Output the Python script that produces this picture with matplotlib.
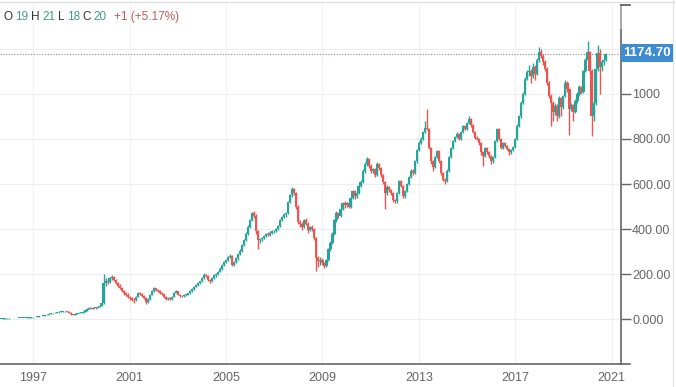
import numpy as np
import pandas as pd
import matplotlib
matplotlib.use('Agg')
from matplotlib import pyplot as plt
from matplotlib.patches import Rectangle

plt.rcParams['font.family'] = ['Liberation Sans', 'DejaVu Sans']

# monthly candles, Sep 1995 .. Oct 2020
start = '1995-09-01'
closes = [
    3, 3, 4, 4,
    4, 5, 5, 5, 6, 6, 6, 7, 7, 8, 8, 9,
    9, 10, 12, 13, 15, 16, 18, 20, 24, 28, 27, 30,
    31, 33, 34, 35, 36, 34, 30, 23, 21, 24, 27, 28,
    30, 34, 40, 46, 50, 48, 52, 50, 55, 60, 72, 160,
    170, 165, 183, 188, 175, 160, 150, 140, 125, 117, 110, 100,
    95, 88, 85, 100, 117, 112, 102, 95, 75, 90, 110, 125,
    139, 130, 125, 117, 112, 100, 92, 95, 90, 100, 118, 124,
    110, 105, 102, 108, 110, 115, 125, 135, 145, 152, 160, 169,
    185, 198, 192, 175, 170, 182, 195, 200, 212, 225, 240, 255,
    262, 275, 280, 240, 255, 270, 290, 305, 330, 350, 380, 410,
    440, 472, 460, 390, 350, 355, 362, 370, 380, 375, 385, 390,
    392, 400, 415, 440, 455, 467, 470, 520, 550, 576, 560, 500,
    430, 422, 410, 440, 425, 395, 410, 400, 360, 270, 258, 265,
    250, 235, 262, 311, 340, 380, 440, 470, 460, 490, 517, 505,
    515, 500, 540, 569, 545, 560, 590, 610, 658, 690, 711, 680,
    658, 665, 640, 689, 670, 640, 610, 560, 587, 575, 560, 530,
    524, 560, 613, 590, 547, 570, 600, 630, 658, 650, 700, 750,
    784, 800, 830, 850, 844, 760, 700, 675, 720, 747, 700, 650,
    620, 613, 660, 720, 760, 791, 810, 822, 800, 830, 858, 845,
    870, 889, 860, 830, 806, 800, 780, 740, 724, 760, 740, 725,
    700, 720, 790, 844, 800, 761, 780, 770, 755, 740, 750, 765,
    800, 858, 900, 961, 1000, 1067, 1095, 1100, 1080, 1120, 1090, 1150,
    1184, 1170, 1140, 1111, 1050, 991, 961, 920, 947, 900, 980, 940,
    990, 1050, 1020, 933, 950, 920, 970, 1000, 1030, 1010, 1100, 1150,
    1184, 1100, 900, 960, 1111, 1180, 1120, 1140, 1150, 1174.7,
]
first_open = 2
highs = [
    3, 4, 4, 5,
    5, 6, 6, 6, 7, 7, 7, 8, 8, 9, 9, 10,
    10, 11, 13, 15, 16, 18, 19, 22, 26, 30, 30, 32,
    33, 35, 36, 37, 38, 38, 35, 31, 25, 26, 29, 31,
    32, 36, 43, 49, 53, 54, 55, 56, 58, 64, 76, 200,
    185, 178, 190, 195, 192, 180, 165, 155, 145, 132, 122, 115,
    105, 100, 93, 104, 122, 120, 115, 106, 98, 93, 114, 130,
    142, 141, 133, 128, 120, 114, 103, 99, 98, 103, 121, 128,
    126, 113, 108, 111, 114, 118, 128, 139, 148, 156, 164, 172,
    190, 205, 202, 195, 180, 186, 199, 205, 216, 230, 245, 260,
    268, 280, 288, 284, 260, 275, 295, 312, 336, 356, 386, 418,
    445, 478, 480, 465, 395, 362, 366, 374, 385, 386, 390, 396,
    398, 405, 420, 446, 460, 472, 478, 525, 558, 587, 582, 565,
    505, 440, 430, 445, 448, 430, 415, 418, 405, 365, 280, 275,
    272, 256, 268, 318, 346, 388, 446, 480, 476, 496, 522, 525,
    520, 520, 545, 575, 572, 565, 596, 618, 665, 698, 720, 715,
    688, 672, 670, 698, 695, 675, 645, 615, 595, 592, 580, 565,
    535, 565, 620, 618, 595, 575, 605, 636, 665, 665, 706, 756,
    790, 808, 836, 880, 933, 850, 765, 708, 725, 752, 750, 705,
    655, 628, 665, 725, 765, 796, 815, 830, 828, 835, 862, 862,
    875, 900, 895, 865, 835, 812, 806, 785, 745, 765, 765, 745,
    730, 725, 795, 850, 848, 805, 785, 785, 775, 760, 755, 770,
    805, 865, 905, 968, 1008, 1075, 1105, 1130, 1110, 1135, 1128, 1160,
    1206, 1200, 1178, 1148, 1118, 1058, 1000, 970, 960, 955, 990, 988,
    995, 1060, 1058, 1025, 960, 955, 975, 1008, 1040, 1035, 1105, 1160,
    1236, 1190, 1110, 970, 1120, 1218, 1200, 1150, 1165, 1180,
]
lows = [
    2, 2, 3, 3,
    3, 4, 4, 4, 5, 5, 5, 6, 6, 7, 7, 8,
    8, 9, 10, 11, 13, 14, 16, 18, 20, 23, 25, 26,
    28, 30, 32, 33, 34, 33, 29, 21, 18, 20, 23, 26,
    26, 29, 33, 39, 44, 45, 47, 48, 49, 54, 58, 70,
    150, 155, 160, 175, 170, 155, 145, 135, 120, 110, 103, 95,
    88, 82, 72, 82, 97, 108, 99, 90, 70, 73, 86, 107,
    121, 127, 120, 113, 108, 95, 85, 88, 84, 87, 97, 115,
    106, 100, 97, 100, 105, 108, 113, 122, 132, 142, 149, 157,
    165, 180, 188, 170, 162, 167, 178, 188, 196, 208, 220, 236,
    248, 258, 270, 235, 236, 250, 265, 285, 300, 326, 346, 376,
    405, 435, 450, 380, 311, 340, 348, 355, 365, 368, 370, 380,
    382, 386, 395, 410, 435, 450, 455, 465, 515, 542, 550, 490,
    422, 410, 395, 405, 418, 385, 390, 392, 350, 213, 230, 240,
    240, 227, 230, 258, 305, 335, 375, 430, 448, 455, 485, 495,
    498, 495, 496, 535, 535, 538, 555, 585, 605, 650, 682, 670,
    650, 650, 630, 636, 662, 632, 600, 489, 550, 565, 550, 520,
    515, 518, 555, 585, 540, 540, 565, 595, 625, 640, 645, 695,
    745, 778, 795, 825, 838, 755, 690, 658, 670, 715, 695, 640,
    612, 600, 610, 655, 715, 755, 785, 805, 795, 795, 825, 838,
    840, 865, 855, 825, 800, 795, 775, 730, 680, 718, 735, 715,
    690, 695, 715, 785, 795, 755, 755, 765, 750, 730, 735, 745,
    760, 795, 852, 895, 955, 995, 1060, 1080, 1050, 1070, 1060, 1085,
    1140, 1160, 1130, 1100, 1040, 980, 858, 880, 905, 880, 895, 900,
    935, 985, 1010, 816, 925, 880, 915, 960, 990, 1000, 1005, 1095,
    1140, 1090, 813, 880, 950, 1100, 1000, 1100, 1130, 1145,
]

year_ticks = [1997, 2001, 2005, 2009, 2013, 2017, 2021]
price_ticks = [0, 200, 400, 600, 800, 1000, 1200]
price_labels = ['0.000', '200.00', '400.00', '600.00', '800.00', '1000', '1200']
last_price = 1174.70
header = [('O', '#333333'), ('19', '#3f9b8c'), ('H', '#333333'), ('21', '#3f9b8c'),
          ('L', '#333333'), ('18', '#3f9b8c'), ('C', '#333333'), ('20', '#3f9b8c'),
          ('+1 (+5.17%)', '#c4575a')]

up_col = '#26a69a'
down_col = '#ef5350'
W, H = 676, 387

dates = pd.date_range(start, periods=len(closes), freq='MS')
x = dates.year + (dates.month - 1) / 12
c = np.array(closes, dtype=float)
o = np.concatenate([[first_open], c[:-1]])
h = np.array(highs, dtype=float)
l = np.array(lows, dtype=float)
colors = np.where(c >= o, up_col, down_col)

fig = plt.figure(figsize=(W / 100, H / 100), dpi=100)
ax = fig.add_axes([0, 1 - 364 / H, 621 / W, 359 / H])

# grid
for yt in price_ticks:
    ax.axhline(yt, color='#eeeeee', lw=0.8, zorder=0)
for xt in year_ticks:
    ax.axvline(xt, color='#f1f1f1', lw=0.8, zorder=0)

ax.vlines(x, l, h, colors=colors, lw=1.0, zorder=2)
body_h = np.maximum(np.abs(c - o), 3)
ax.bar(x, body_h, bottom=np.minimum(o, c), width=0.09, color=colors, lw=0, zorder=3)

# last price line
ax.axhline(last_price, color='#7a8aa0', lw=0.8, ls=(0, (1, 1.5)), zorder=1)

ax.set_xlim(1995.62, 2021.39)
ax.set_ylim(-198, 1394)

for s in ['left', 'top']:
    ax.spines[s].set_visible(False)
ax.spines['right'].set_color('#666666')
ax.spines['bottom'].set_color('#666666')
ax.spines['right'].set_linewidth(1.2)
ax.spines['bottom'].set_linewidth(1.2)

ax.yaxis.tick_right()
ax.set_yticks(price_ticks)
ax.set_yticklabels(price_labels)
ax.tick_params(axis='y', direction='out', length=7, width=1, color='#666666',
               labelcolor='#666666', labelsize=9, pad=1)
ax.set_xticks(year_ticks)
ax.set_xticklabels([str(y) for y in year_ticks])
ax.tick_params(axis='x', length=0, labelcolor='#666666', labelsize=9, pad=6)

# frame details: light top of the price scale, top tick, borders
fig.add_artist(plt.Line2D([621 / W, 621 / W], [1 - 5 / H, 1 - 28 / H], color='#b0b0b0', lw=1.3))
fig.add_artist(plt.Line2D([621 / W, 630 / W], [1 - 5 / H, 1 - 5 / H], color='#555555', lw=1.2))
fig.add_artist(plt.Line2D([621 / W, 630 / W], [1 - 364 / H, 1 - 364 / H], color='#666666', lw=1.2))
fig.add_artist(plt.Line2D([0, 1], [1 - 2 / H, 1 - 2 / H], color='#e0e0e0', lw=1))
fig.add_artist(plt.Line2D([673 / W, 673 / W], [0, 1], color='#e6e6e6', lw=1))

# price tag
fig.add_artist(Rectangle((621 / W, 1 - 62 / H), 52 / W, 18 / H, transform=fig.transFigure,
                         fc='#3d8bd0', ec='none', zorder=10))
fig.text(647 / W, 1 - 53.5 / H, '1174.70', ha='center', va='center', fontsize=9.5,
         fontweight='bold', color='white', zorder=11)

# ohlc header
prev = fig.text(4 / W, 1 - 17 / H, header[0][0], color=header[0][1], fontsize=8.5, va='center')
for txt, col in header[1:]:
    gap = 7 if txt.startswith('+') else 2.5
    prev = ax.annotate(txt, xy=(1, 0), xycoords=prev, xytext=(gap, 0),
                       textcoords='offset pixels', va='bottom', ha='left',
                       color=col, fontsize=8.5)

fig.savefig('out.png', dpi=100)
